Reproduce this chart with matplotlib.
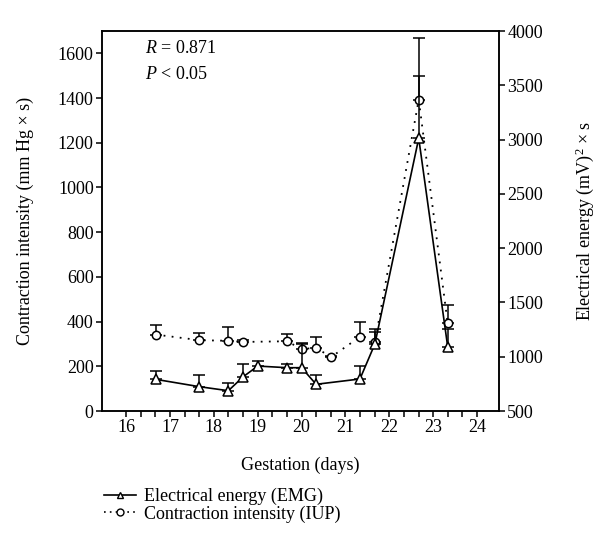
import numpy as np
import matplotlib
matplotlib.use('Agg')
from matplotlib import pyplot as plt
from matplotlib.lines import Line2D

plt.rcParams['font.family'] = ['Liberation Serif', 'DejaVu Serif']
plt.rcParams['mathtext.fontset'] = 'custom'
plt.rcParams['mathtext.rm'] = 'Liberation Serif'
plt.rcParams['mathtext.it'] = 'Liberation Serif:italic'

# Electrical energy (EMG), right axis
emg_days = [16.67, 17.67, 18.33, 18.67, 19.0, 19.67, 20.0, 20.33, 21.33, 21.67, 22.67, 23.33]
emg_vals = [792, 724, 687, 816, 914, 899, 899, 746, 795, 1117, 3012, 1092]
emg_err = [76, 105, 68, 114, 49, 30, 224, 86, 119, 113, 573, 160]

# Contraction intensity (IUP), left axis
iup_days = [16.67, 17.67, 18.33, 18.67, 19.67, 20.0, 20.33, 20.67, 21.33, 21.67, 22.67, 23.33]
iup_vals = [342, 317, 314, 309, 312, 277, 283, 241, 332, 307, 1393, 392]
iup_err = [42, 33, 62, 10, 32, 25, 49, 5, 67, 62, 278, 81]

xticks = [16, 17, 18, 19, 20, 21, 22, 23, 24]
left_ticks = [0, 200, 400, 600, 800, 1000, 1200, 1400, 1600]
right_ticks = [500, 1000, 1500, 2000, 2500, 3000, 3500, 4000]

FS = 13

fig = plt.figure(figsize=(6, 5.57), dpi=100)
ax = fig.add_axes([0.17, 0.2621, 0.6617, 0.6822])
ax2 = ax.twinx()

ax.errorbar(iup_days, iup_vals, yerr=[np.zeros(len(iup_err)), iup_err],
            color='black', ls=(0, (1, 3.5)), lw=1.3, marker='o', ms=6,
            mfc='white', mec='black', mew=1.1, capsize=4, elinewidth=1.1,
            capthick=1.1, zorder=3)
ax2.errorbar(emg_days, emg_vals, yerr=[np.zeros(len(emg_err)), emg_err],
             color='black', ls='-', lw=1.2, marker='^', ms=6.5,
             mfc='white', mec='black', mew=1.1, capsize=4, elinewidth=1.1,
             capthick=1.1, zorder=3)

ax.set_xlim(15.45, 24.5)
ax.set_ylim(0, 1700)
ax2.set_ylim(500, 4000)

ax.set_xticks(xticks)
ax.set_xticks(np.arange(16, 24.01, 1 / 3), minor=True)
ax.set_yticks(left_ticks)
ax2.set_yticks(right_ticks)

for a in (ax, ax2):
    a.tick_params(which='both', direction='out', length=4, width=1.1,
                  labelsize=FS, pad=2)
    for s in a.spines.values():
        s.set_linewidth(1.1)

ax.set_xlabel('Gestation (days)', fontsize=FS, labelpad=15)
ax.set_ylabel('Contraction intensity (mm Hg × s)', fontsize=FS, labelpad=17)
ax2.set_ylabel('Electrical energy (mV)$^2$ × s', fontsize=FS, rotation=90,
               labelpad=22)

ax.text(0.108, 0.955, '$R$ = 0.871', transform=ax.transAxes, fontsize=FS,
        va='center')
ax.text(0.108, 0.885, '$P$ < 0.05', transform=ax.transAxes, fontsize=FS,
        va='center')

handles = [
    Line2D([], [], color='black', ls='-', lw=1.2, marker='^', ms=5,
           mfc='white', mec='black'),
    Line2D([], [], color='black', ls=(0, (1, 2.5)), lw=1.2, marker='o', ms=5,
           mfc='white', mec='black'),
]
fig.legend(handles, ['Electrical energy (EMG)', 'Contraction intensity (IUP)'],
           loc='upper left', bbox_to_anchor=(0.158, 0.14), frameon=False,
           fontsize=FS, handlelength=1.8, handletextpad=0.4, labelspacing=0.0,
           borderpad=0)

fig.savefig('out.png', dpi=100)
